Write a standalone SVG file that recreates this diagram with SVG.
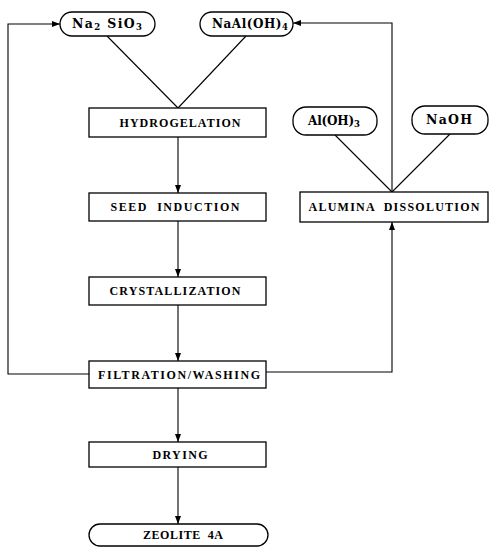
<svg xmlns="http://www.w3.org/2000/svg" width="496" height="555" viewBox="0 0 496 555">
<defs>
<marker id="ah" viewBox="0 0 8 6" refX="8" refY="3" markerWidth="8" markerHeight="6" markerUnits="userSpaceOnUse" orient="auto"><path d="M0,0 L8,3 L0,6 z" fill="#000"/></marker>
<style>
.box{fill:#fff;stroke:#000;stroke-width:1.3}
.ln{fill:none;stroke:#000;stroke-width:1.1}
.t{font-family:"Liberation Serif","DejaVu Serif",serif;font-weight:bold;font-size:12px;text-anchor:middle;fill:#000}
.p{font-family:"DejaVu Serif","Liberation Serif",serif;font-size:12.5px}
.q{font-size:12px}
.s{font-size:8.5px}
</style>
</defs>
<rect width="496" height="555" fill="#fff"/>
<g id="connectors">
<path class="ln" d="M107,36 L178,108"/>
<path class="ln" d="M246,36 L178,108"/>
<path class="ln" d="M178,137 V193" marker-end="url(#ah)"/>
<path class="ln" d="M178,221 V277" marker-end="url(#ah)"/>
<path class="ln" d="M178,305 V361" marker-end="url(#ah)"/>
<path class="ln" d="M178,388 V442" marker-end="url(#ah)"/>
<path class="ln" d="M178,467 V524" marker-end="url(#ah)"/>
<path class="ln" d="M89,374 H8 V24 H60" marker-end="url(#ah)"/>
<path class="ln" d="M266,372 H392 V222" marker-end="url(#ah)"/>
<path class="ln" d="M392,192 V23 H293" marker-end="url(#ah)"/>
<path class="ln" d="M335,135 L392,192"/>
<path class="ln" d="M450,134 L392,192"/>
</g>
<g id="na2sio3"><rect class="box" x="60" y="12" width="95" height="24" rx="12"/><text class="t p" x="107" y="28" textLength="70" lengthAdjust="spacing">Na<tspan class="s" dy="2">2</tspan><tspan dy="-2"> SiO</tspan><tspan class="s" dy="2">3</tspan></text></g>
<g id="naaloh4"><rect class="box" x="200" y="12" width="93" height="24" rx="12"/><text class="t p q" x="250" y="28" textLength="76" lengthAdjust="spacing">NaAl(OH)<tspan class="s" dy="2">4</tspan></text></g>
<g id="hydrogelation"><rect class="box" x="89" y="108" width="177" height="29"/><text class="t" x="180" y="127" textLength="121" lengthAdjust="spacing">HYDROGELATION</text></g>
<g id="seed"><rect class="box" x="89" y="193" width="177" height="28"/><text class="t" x="175" y="211" textLength="129" lengthAdjust="spacing" xml:space="preserve">SEED  INDUCTION</text></g>
<g id="crystallization"><rect class="box" x="89" y="277" width="177" height="28"/><text class="t" x="175" y="295" textLength="131" lengthAdjust="spacing">CRYSTALLIZATION</text></g>
<g id="filtration"><rect class="box" x="89" y="361" width="177" height="27"/><text class="t" x="179" y="379" textLength="162" lengthAdjust="spacing">FILTRATION/WASHING</text></g>
<g id="drying"><rect class="box" x="89" y="442" width="177" height="25"/><text class="t" x="180" y="459" textLength="55" lengthAdjust="spacing">DRYING</text></g>
<g id="zeolite"><rect class="box" x="89" y="524" width="179" height="22" rx="11"/><text class="t" x="183" y="539" textLength="80" lengthAdjust="spacing" xml:space="preserve">ZEOLITE  4A</text></g>
<g id="aloh3"><rect class="box" x="293" y="107" width="84" height="28" rx="13"/><text class="t p q" x="334" y="125" textLength="52" lengthAdjust="spacing">Al(OH)<tspan class="s" dy="2">3</tspan></text></g>
<g id="naoh"><rect class="box" x="412" y="106" width="76" height="28" rx="13"/><text class="t p" x="449" y="124" textLength="46" lengthAdjust="spacing">NaOH</text></g>
<g id="alumina"><rect class="box" x="300" y="192" width="188" height="30"/><text class="t" x="394" y="211" textLength="171" lengthAdjust="spacing" xml:space="preserve">ALUMINA  DISSOLUTION</text></g>
</svg>
